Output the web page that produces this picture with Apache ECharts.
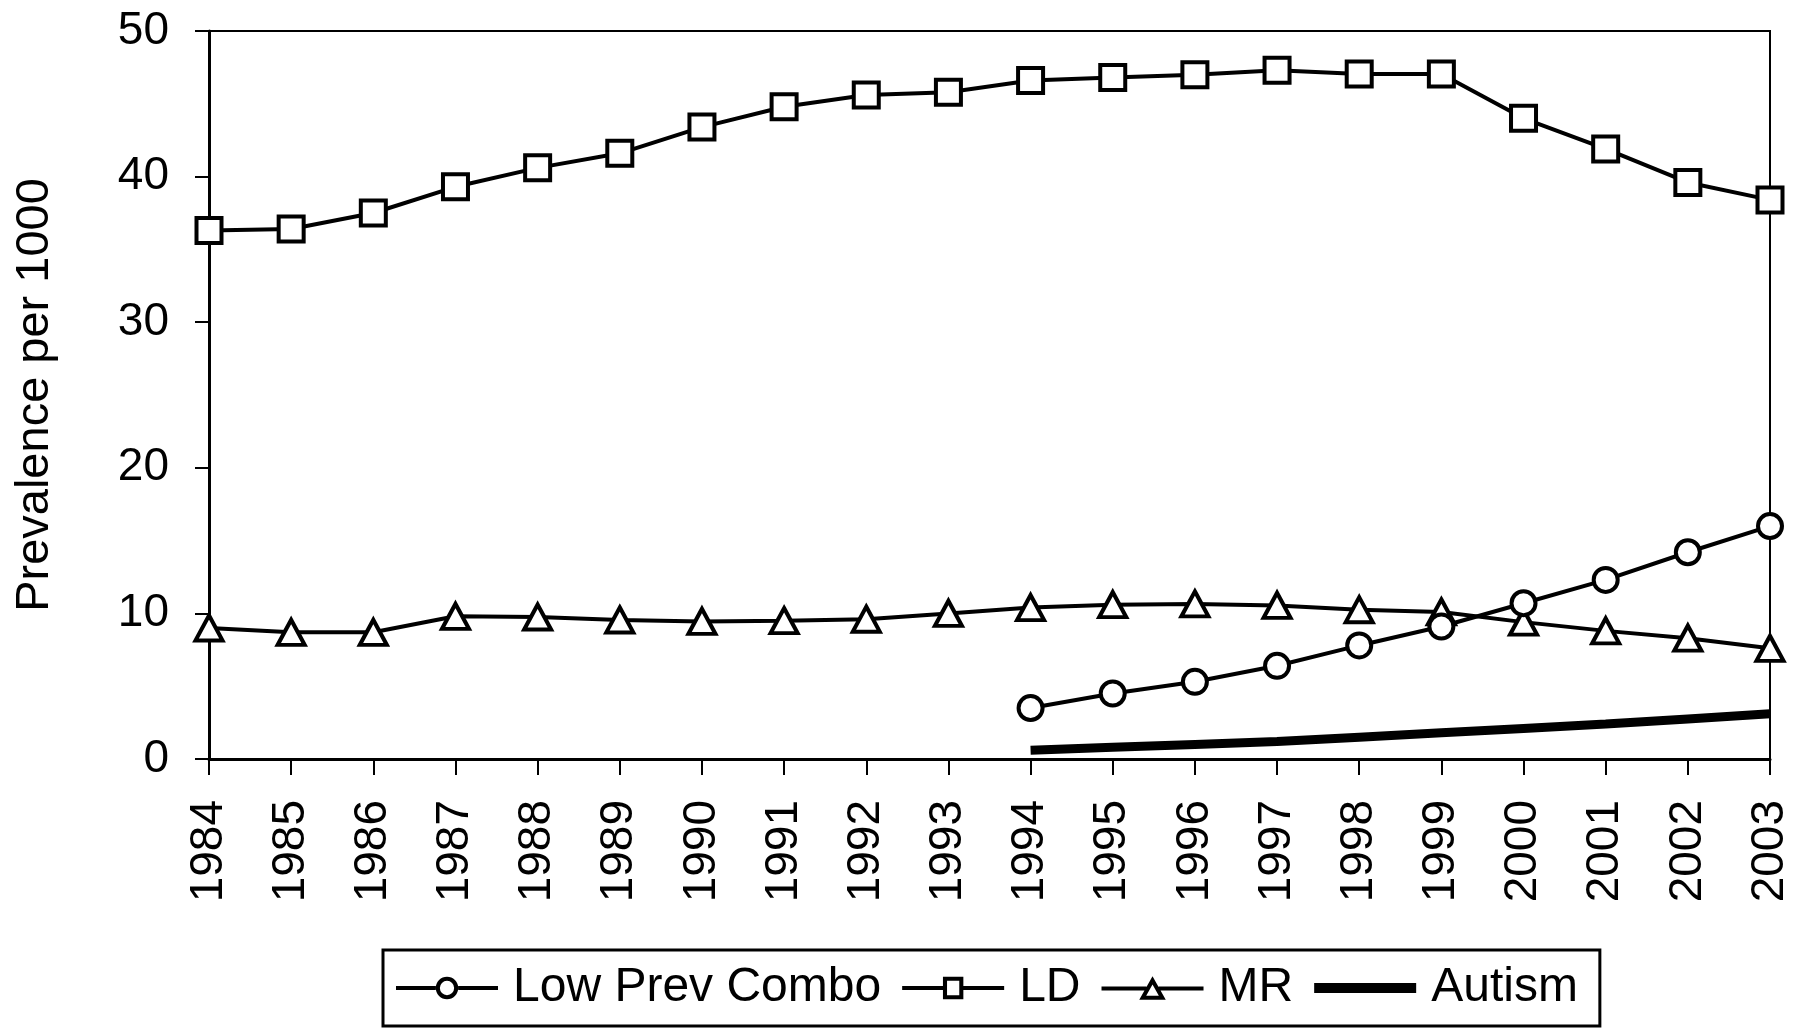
<!DOCTYPE html>
<html>
<head>
<meta charset="utf-8">
<script src="https://cdn.jsdelivr.net/npm/echarts@6/dist/echarts.min.js"></script>
<style>
  html, body { margin: 0; padding: 0; background: #fff; }
  #chart { width: 1800px; height: 1035px; }
</style>
</head>
<body>
<div id="chart"></div>
<script>
const years = ['1984','1985','1986','1987','1988','1989','1990','1991','1992','1993',
               '1994','1995','1996','1997','1998','1999','2000','2001','2002','2003'];
const lowPrevCombo = [null,null,null,null,null,null,null,null,null,null,
                      3.5,4.5,5.3,6.4,7.8,9.1,10.7,12.3,14.2,16.0];
const ld = [36.3,36.4,37.5,39.3,40.6,41.6,43.4,44.8,45.6,45.8,
            46.6,46.8,47.0,47.3,47.05,47.05,44.0,41.9,39.6,38.4];
const mr = [9.0,8.7,8.7,9.8,9.75,9.55,9.45,9.5,9.6,10.0,
            10.4,10.6,10.65,10.55,10.25,10.1,9.4,8.8,8.3,7.6];
const autism = [null,null,null,null,null,null,null,null,null,null,
                0.6,0.8,1.0,1.2,1.5,1.8,2.1,2.4,2.75,3.1];
const yTicks = { min: 0, max: 50, interval: 10 };
const seriesNames = ['Low Prev Combo', 'LD', 'MR', 'Autism'];

const font = 'Liberation Sans, Arial, Helvetica, sans-serif';
const chart = echarts.init(document.getElementById('chart'), null, { renderer: 'canvas' });

const markerStyle = { color: '#fff', borderColor: '#000', borderWidth: 4 };
const lineStyle = { color: '#000', width: 4 };

// legend icons: line segment with hollow marker (drawn as filled paths with holes)
const iconCircle = 'path://M0,10 H39 V14 H0 Z M61,10 H100 V14 H61 Z ' +
  'M39,12 A11,11 0 1,0 61,12 A11,11 0 1,0 39,12 Z M43,12 A7,7 0 1,1 57,12 A7,7 0 1,1 43,12 Z';
const iconSquare = 'path://M0,10 H40 V14 H0 Z M60,10 H100 V14 H60 Z ' +
  'M40,1 H60 V23 H40 Z M44,5 V19 H56 V5 Z';
const iconTriangle = 'path://M0,10 H44 V14 H0 Z M56,10 H100 V14 H56 Z ' +
  'M50,0 L63,23 L37,23 Z M50,8 L43.8,19 L56.2,19 Z';
const iconThick = 'path://M0,0 H100 V10 H0 Z';
const iconFill = { color: '#000', borderWidth: 0 };

chart.setOption({
  animation: false,
  backgroundColor: '#fff',
  grid: {
    left: 209, right: 30, top: 31, bottom: 276,
    containLabel: false, outerBoundsMode: 'none',
    show: true, borderColor: '#000', borderWidth: 2, backgroundColor: 'transparent'
  },
  legend: {
    left: 383, top: 950,
    padding: [14, 22, 14, 13],
    borderColor: '#000', borderWidth: 3,
    itemWidth: 102, itemHeight: 24, itemGap: 21,
    textStyle: { fontFamily: font, fontSize: 48, color: '#000', padding: [0, 0, 0, 10] },
    data: [
      { name: seriesNames[0], icon: iconCircle, itemStyle: iconFill },
      { name: seriesNames[1], icon: iconSquare, itemStyle: iconFill },
      { name: seriesNames[2], icon: iconTriangle, itemStyle: iconFill },
      { name: seriesNames[3], icon: iconThick, itemStyle: iconFill }
    ]
  },
  xAxis: {
    type: 'category',
    data: years,
    boundaryGap: false,
    axisLine: { lineStyle: { color: '#000', width: 3 } },
    axisTick: { show: true, length: 16, lineStyle: { color: '#000', width: 2 } },
    axisLabel: { rotate: 90, margin: 41, fontFamily: font, fontSize: 46, color: '#000' },
    splitLine: { show: false }
  },
  yAxis: {
    type: 'value',
    min: yTicks.min, max: yTicks.max, interval: yTicks.interval,
    name: 'Prevalence per 1000',
    nameLocation: 'middle',
    nameGap: 150,
    nameTextStyle: { fontFamily: font, fontSize: 47, color: '#000' },
    axisLine: { show: true, lineStyle: { color: '#000', width: 3 } },
    axisTick: { show: true, length: 14, lineStyle: { color: '#000', width: 2 } },
    axisLabel: { margin: 40, fontFamily: font, fontSize: 46, color: '#000' },
    splitLine: { show: false }
  },
  series: [
    {
      name: seriesNames[0], type: 'line', data: lowPrevCombo,
      symbol: 'circle', symbolSize: 24, showAllSymbol: true,
      lineStyle: lineStyle, itemStyle: markerStyle, z: 4
    },
    {
      name: seriesNames[1], type: 'line', data: ld,
      symbol: 'rect', symbolSize: 25, showAllSymbol: true,
      lineStyle: lineStyle, itemStyle: markerStyle, z: 3
    },
    {
      name: seriesNames[2], type: 'line', data: mr,
      symbol: 'triangle', symbolSize: [27, 25], showAllSymbol: true,
      lineStyle: lineStyle, itemStyle: markerStyle, z: 3
    },
    {
      name: seriesNames[3], type: 'line', data: autism,
      symbol: 'none',
      lineStyle: { color: '#000', width: 9 }, itemStyle: { color: '#000' }, z: 2
    }
  ]
});
</script>
</body>
</html>
